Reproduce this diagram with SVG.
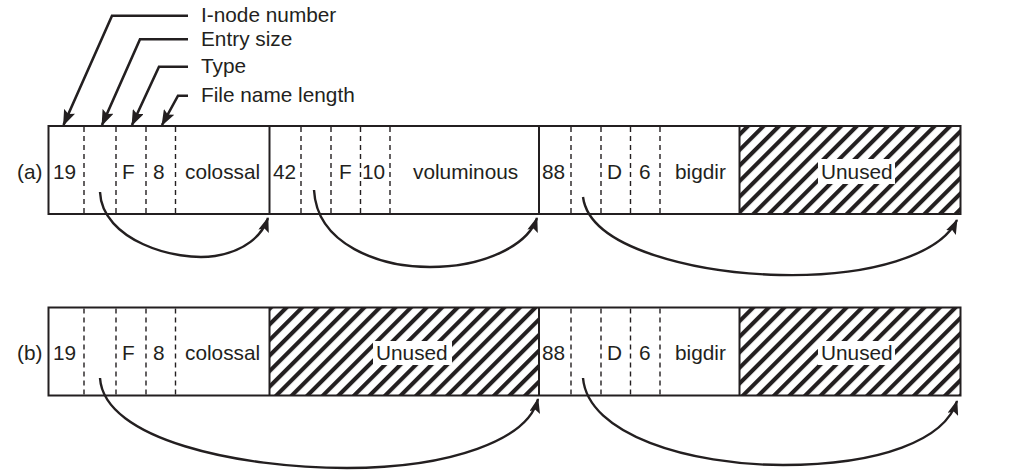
<svg xmlns="http://www.w3.org/2000/svg" width="1011" height="474" viewBox="0 0 1011 474">
<style>
  text { font-family: "Liberation Sans", Arial, sans-serif; font-size: 20.8px; fill: #231f20; }
  .box { fill: none; stroke: #231f20; stroke-width: 2; }
  .solid { stroke: #231f20; stroke-width: 2; }
  .dash { stroke: #231f20; stroke-width: 1.4; stroke-dasharray: 5 4; }
  .hatch { fill: url(#hatch); stroke: none; }
  .lbl { fill: #fff; stroke: none; }
  .conn { fill: none; stroke: #231f20; stroke-width: 2.4; marker-end: url(#arr); }
  .lead { fill: none; stroke: #231f20; stroke-width: 2.6; marker-end: url(#arr2); }
</style>
<defs>
  <pattern id="hatch" patternUnits="userSpaceOnUse" width="11" height="11" patternTransform="rotate(45)">
    <rect width="11" height="11" fill="#fff"/>
    <line x1="2" y1="0" x2="2" y2="11" stroke="#231f20" stroke-width="4.2"/>
  </pattern>
  <marker id="arr" markerUnits="userSpaceOnUse" markerWidth="15" markerHeight="11" viewBox="0 0 15 11" refX="14" refY="5.5" orient="auto">
    <path d="M0,0 L15,5.5 L0,11 L3,5.5 z" fill="#231f20"/>
  </marker>
  <marker id="arr2" markerUnits="userSpaceOnUse" markerWidth="16" markerHeight="12" viewBox="0 0 16 12" refX="15" refY="6" orient="auto">
    <path d="M0,0 L16,6 L0,12 L3,6 z" fill="#231f20"/>
  </marker>
</defs>
<rect width="1011" height="474" fill="#fff"/>

<g id="legend">
  <text x="201" y="22">I-node number</text>
  <text x="201" y="46">Entry size</text>
  <text x="201" y="73">Type</text>
  <text x="201" y="102">File name length</text>
</g>

<g id="row-a">
  <text x="17" y="179">(a)</text>
  <g id="a-entry-colossal">
    <line class="dash" x1="84" y1="127" x2="84" y2="213"/>
    <line class="dash" x1="116" y1="127" x2="116" y2="213"/>
    <line class="dash" x1="146" y1="127" x2="146" y2="213"/>
    <line class="dash" x1="175.5" y1="127" x2="175.5" y2="213"/>
    <text x="53" y="179">19</text>
    <text x="122" y="179">F</text>
    <text x="153" y="179">8</text>
    <text x="185" y="179">colossal</text>
  </g>
  <g id="a-entry-voluminous">
    <line class="solid" x1="269.5" y1="126" x2="269.5" y2="214"/>
    <line class="dash" x1="301" y1="127" x2="301" y2="213"/>
    <line class="dash" x1="331" y1="127" x2="331" y2="213"/>
    <line class="dash" x1="360.5" y1="127" x2="360.5" y2="213"/>
    <line class="dash" x1="390" y1="127" x2="390" y2="213"/>
    <text x="273" y="179">42</text>
    <text x="339" y="179">F</text>
    <text x="362" y="179">10</text>
    <text x="413" y="179">voluminous</text>
  </g>
  <g id="a-entry-bigdir">
    <line class="solid" x1="539" y1="126" x2="539" y2="214"/>
    <line class="dash" x1="571" y1="127" x2="571" y2="213"/>
    <line class="dash" x1="601" y1="127" x2="601" y2="213"/>
    <line class="dash" x1="630.5" y1="127" x2="630.5" y2="213"/>
    <line class="dash" x1="660" y1="127" x2="660" y2="213"/>
    <text x="542" y="179">88</text>
    <text x="607" y="179">D</text>
    <text x="639" y="179">6</text>
    <text x="675" y="179">bigdir</text>
  </g>
  <g id="a-unused">
    <rect class="hatch" x="739.5" y="126" width="221" height="88"/>
    <line class="solid" x1="739.5" y1="126" x2="739.5" y2="214"/>
    <rect class="lbl" x="818" y="159" width="77" height="25"/>
    <text x="821" y="179">Unused</text>
  </g>
  <rect class="box" x="48.5" y="126" width="912" height="88"/>
</g>

<g id="row-b">
  <text x="17" y="360">(b)</text>
  <g id="b-entry-colossal">
    <line class="dash" x1="84" y1="308.5" x2="84" y2="394.5"/>
    <line class="dash" x1="116" y1="308.5" x2="116" y2="394.5"/>
    <line class="dash" x1="146" y1="308.5" x2="146" y2="394.5"/>
    <line class="dash" x1="175.5" y1="308.5" x2="175.5" y2="394.5"/>
    <text x="53" y="360">19</text>
    <text x="122" y="360">F</text>
    <text x="153" y="360">8</text>
    <text x="185" y="360">colossal</text>
  </g>
  <g id="b-unused-1">
    <rect class="hatch" x="269.5" y="307.5" width="269.5" height="88"/>
    <line class="solid" x1="269.5" y1="307.5" x2="269.5" y2="395.5"/>
    <rect class="lbl" x="373" y="341" width="79" height="24"/>
    <text x="376" y="360">Unused</text>
  </g>
  <g id="b-entry-bigdir">
    <line class="solid" x1="539" y1="307.5" x2="539" y2="395.5"/>
    <line class="dash" x1="571" y1="308.5" x2="571" y2="394.5"/>
    <line class="dash" x1="601" y1="308.5" x2="601" y2="394.5"/>
    <line class="dash" x1="630.5" y1="308.5" x2="630.5" y2="394.5"/>
    <line class="dash" x1="660" y1="308.5" x2="660" y2="394.5"/>
    <text x="542" y="360">88</text>
    <text x="607" y="360">D</text>
    <text x="639" y="360">6</text>
    <text x="675" y="360">bigdir</text>
  </g>
  <g id="b-unused-2">
    <rect class="hatch" x="739.5" y="307.5" width="221" height="88"/>
    <line class="solid" x1="739.5" y1="307.5" x2="739.5" y2="395.5"/>
    <rect class="lbl" x="818" y="341" width="77" height="24"/>
    <text x="821" y="360">Unused</text>
  </g>
  <rect class="box" x="48.5" y="307.5" width="912" height="88"/>
</g>

<g id="connectors">
  <path class="lead" d="M188,15.7 H112 L63.5,125"/>
  <path class="lead" d="M188,39.3 H140 L102,125"/>
  <path class="lead" d="M188,66.7 H159 L132,125"/>
  <path class="lead" d="M188,95.7 H178 L162,125"/>
  <path class="conn" d="M100,192 C102,240 175,262 215,256 C245,251 262,236 268,218"/>
  <path class="conn" d="M314,190 C317,245 380,267 430,267 C485,267 528,245 537,218"/>
  <path class="conn" d="M583,197 C590,250 700,273 780,275 C870,277 940,255 957,220"/>
  <path class="conn" d="M100,378 C104,440 240,468 347,468 C450,468 528,440 538,399"/>
  <path class="conn" d="M583,378 C588,435 690,465 783,465 C880,465 945,440 957,401"/>
</g>
</svg>
